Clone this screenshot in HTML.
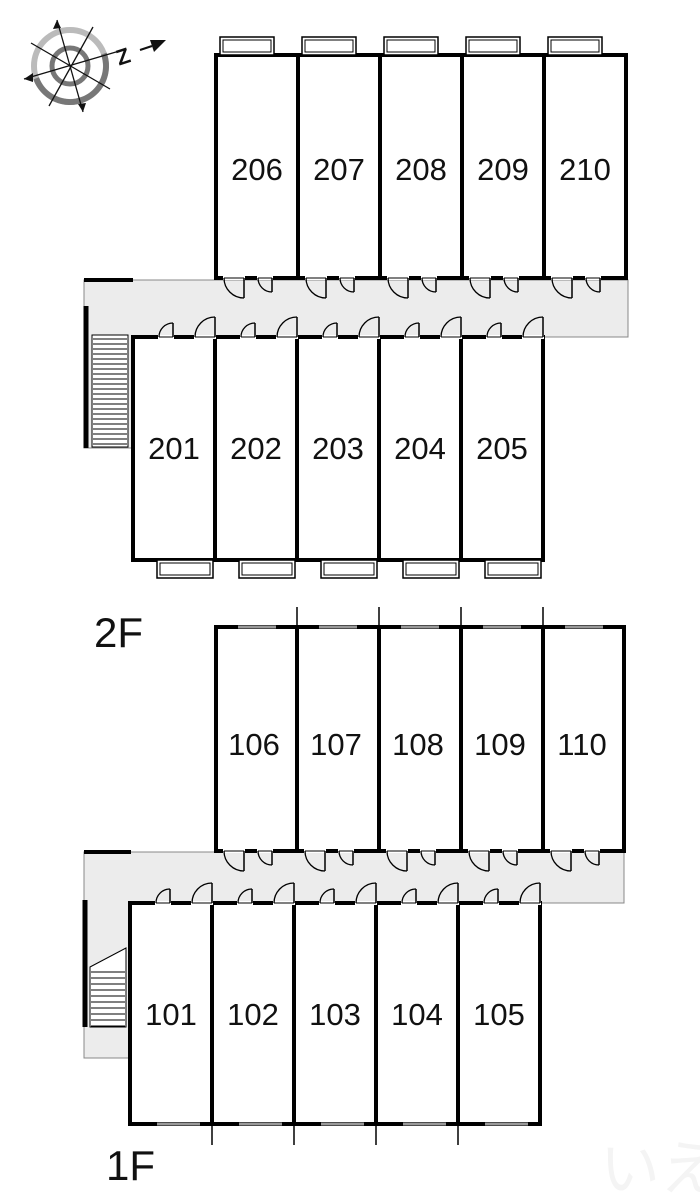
<!DOCTYPE html>
<html><head><meta charset="utf-8"><style>
html,body{margin:0;padding:0;background:#fff;}
svg{display:block}
text{font-family:"Liberation Sans",sans-serif;fill:#111}
.u{font-size:31px;text-anchor:middle}
</style></head><body>
<svg id="s" width="700" height="1201" viewBox="0 0 700 1201">
<!-- corridors -->
<path d="M84 280 L628 280 L628 337 L134 337 L134 448 L84 448 Z" fill="#ececec" stroke="#888" stroke-width="1"/>
<path d="M84 852 L624 852 L624 903 L131 903 L131 1058 L84 1058 Z" fill="#ececec" stroke="#888" stroke-width="1"/>
<g id="g" fill="none" stroke="#000"></g>
<!-- compass -->
<g fill="none">
<circle cx="70" cy="66" r="36" stroke="#bbb" stroke-width="6"/>
<path d="M34 66 A36 36 0 0 0 106 66" stroke="#777" stroke-width="6" transform="rotate(-20 70 66)"/>
<circle cx="70" cy="66" r="18" stroke="#777" stroke-width="5"/>
<g stroke="#111" stroke-width="1.3">
<line x1="57" y1="20" x2="83" y2="112"/><line x1="24" y1="79" x2="116" y2="52"/>
<line x1="31" y1="43" x2="110" y2="89"/><line x1="93" y1="27" x2="49" y2="106"/>
</g></g>
<polygon points="57,20 53,29 61,28" fill="#111"/><polygon points="83,112 78,104 86,103" fill="#111"/>
<polygon points="24,79 33,73 33,82" fill="#111"/>
<text x="116" y="63" font-size="22" font-weight="bold" transform="rotate(-18 126 55)">Z</text>
<line x1="140" y1="50" x2="152" y2="46" stroke="#111" stroke-width="2"/>
<polygon points="150,40 166,40 154,52" fill="#111"/>
<!-- labels -->
<text class="u" x="257" y="180">206</text><text class="u" x="339" y="180">207</text><text class="u" x="421" y="180">208</text><text class="u" x="503" y="180">209</text><text class="u" x="585" y="180">210</text>
<text class="u" x="174" y="459">201</text><text class="u" x="256" y="459">202</text><text class="u" x="338" y="459">203</text><text class="u" x="420" y="459">204</text><text class="u" x="502" y="459">205</text>
<text class="u" x="254" y="755">106</text><text class="u" x="336" y="755">107</text><text class="u" x="418" y="755">108</text><text class="u" x="500" y="755">109</text><text class="u" x="582" y="755">110</text>
<text class="u" x="171" y="1025">101</text><text class="u" x="253" y="1025">102</text><text class="u" x="335" y="1025">103</text><text class="u" x="417" y="1025">104</text><text class="u" x="499" y="1025">105</text>
<text x="94" y="647" font-size="42">2F</text>
<text x="106" y="1180" font-size="42">1F</text>
<text x="600" y="1190" font-size="60" style="fill:#f4f4f4">いえなび</text>
</svg>
<script>
var g=document.getElementById('g'),NS='http://www.w3.org/2000/svg';
function el(t,a){var e=document.createElementNS(NS,t);for(var k in a)e.setAttribute(k,a[k]);g.appendChild(e);return e;}
function L(x1,y1,x2,y2,w,c){el('line',{x1:x1,y1:y1,x2:x2,y2:y2,'stroke-width':w,stroke:c||'#000'});}
function row(xs,y1,y2,doorsTop,balc,ticksY){
 var n=xs.length-1;
 L(xs[0],y1,xs[n],y1,4);L(xs[0],y2,xs[n],y2,4);
 for(var i=0;i<=n;i++)L(xs[i],y1-2,xs[i],y2+2,4);
 for(var i=0;i<n;i++){var x=xs[i];
  if(balc!=null){el('rect',{x:x+4,y:balc,width:54,height:18,'stroke-width':1.5,fill:'#fff'});el('rect',{x:x+7,y:balc+3,width:48,height:12,'stroke-width':1});}
  if(doorsTop){drawDoor(x+26,y1,14,-1);drawDoor(x+62,y1,20,-1);}
  else{drawDoor(x+8,y2,20,1);drawDoor(x+42,y2,14,1);}
 }
 if(ticksY!=null)for(var i=1;i<n;i++)L(xs[i],y2,xs[i],ticksY,1.5);
}
function drawDoor(x,y,r,dir){
 el('rect',{x:x-1,y:y-2,width:r+2,height:4,fill:'#fff',stroke:'none'});
 if(dir<0){L(x+r,y,x+r,y-r,1.5);el('path',{d:'M'+x+' '+y+' A'+r+' '+r+' 0 0 1 '+(x+r)+' '+(y-r),'stroke-width':1.3});}
 else{L(x+r,y,x+r,y+r,1.5);el('path',{d:'M'+x+' '+y+' A'+r+' '+r+' 0 0 0 '+(x+r)+' '+(y+r),'stroke-width':1.3});}
 L(x,y,x+r,y,1);
}
// 2F
row([216,298,380,462,544,626],55,278,false,37,null);
row([133,215,297,379,461,543],337,560,true,null,null);
for(var x of [133,215,297,379,461]){el('rect',{x:x+24,y:560,width:56,height:18,'stroke-width':1.5,fill:'#fff'});el('rect',{x:x+27,y:563,width:50,height:12,'stroke-width':1});}
L(84,280,133,280,4);L(86,306,86,448,5);
el('rect',{x:92,y:335,width:36,height:112,'stroke-width':1,fill:'#fff'});
for(var y=339;y<447;y+=5)L(93,y,127,y,1);
// 1F
row([216,297,379,461,543,624],627,851,false,null,null);
for(var x of [297,379,461,543])L(x,607,x,627,1.5);
row([130,212,294,376,458,540],903,1124,true,null,1145);
for(var x of [130,212,294,376,458]){L(x+27,1124,x+70,1124,3,'#999');}
for(var x of [216,297,379,461,543]){L(x+22,627,x+60,627,3,'#999');}
L(84,852,131,852,4);L(85,900,85,1027,5);
el('path',{d:'M90 967 L126 948 L126 1027 L90 1027 Z','stroke-width':1,fill:'#fff'});
for(var y=972;y<1027;y+=6)L(91,y,125,y,1);
</script>
</body></html>
